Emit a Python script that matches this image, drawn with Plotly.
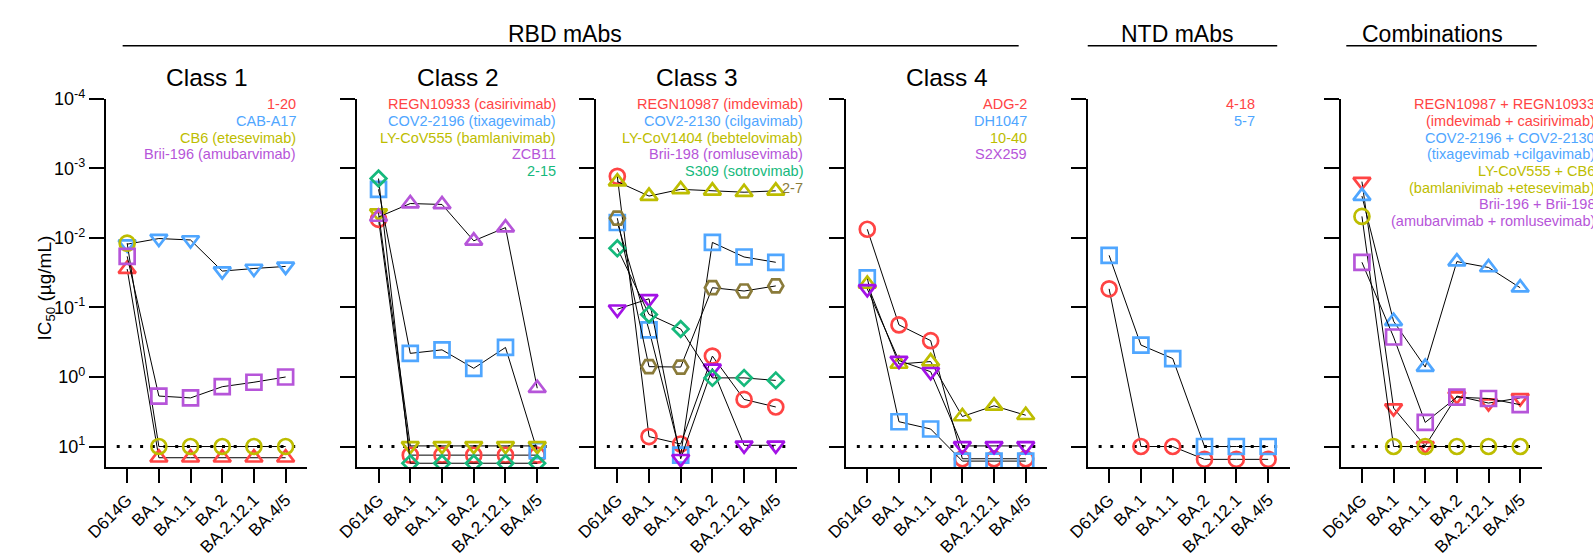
import plotly.graph_objects as go

W, H = 1593, 557

variants = ["D614G", "BA.1", "BA.1.1", "BA.2", "BA.2.12.1", "BA.4/5"]
ytick_vals = [1e-4, 1e-3, 1e-2, 1e-1, 1e0, 1e1]
ytick_text = ["10<sup>-4</sup>", "10<sup>-3</sup>", "10<sup>-2</sup>",
              "10<sup>-1</sup>", "10<sup>0</sup>", "10<sup>1</sup>"]
detection_limit = 10

RED = "#FF4444"
BLUE = "#4FA6FF"
OLIVE = "#BDBD00"
PURPLE = "#B655D9"
VIOLET = "#A312E6"
GREEN = "#16B97C"
BROWN = "#8A7B3A"

# ---- Class 1 ----
c1_1_20 = [0.028, 14.5, 14.5, 14.5, 14.5, 14.5]
c1_cab_a17 = [0.0123, 0.0102, 0.0107, 0.030, 0.0275, 0.0257]
c1_cb6 = [0.0119, 10, 10, 10, 10, 10]
c1_brii196 = [0.0184, 1.88, 2.0, 1.38, 1.19, 1.0]

# ---- Class 2 ----
c2_regn10933 = [0.0054, 13.3, 13.3, 13.3, 13.3, 13.3]
c2_cov2_2196 = [0.0020, 0.457, 0.407, 0.75, 0.376, 11.5]
c2_ly_cov555 = [0.0044, 9.8, 9.8, 9.8, 9.8, 9.8]
c2_zcb11 = [0.0050, 0.0032, 0.0033, 0.011, 0.0071, 1.45]
c2_2_15 = [0.0014, 17.4, 17.4, 17.4, 17.4, 17.4]

# ---- Class 3 ----
c3_regn10987 = [0.0013, 7.2, 9.2, 0.50, 2.1, 2.7]
c3_cov2_2130 = [0.0060, 0.21, 13.3, 0.0116, 0.0188, 0.0224]
c3_ly_cov1404 = [0.00155, 0.0025, 0.0020, 0.0021, 0.0022, 0.0021]
c3_brii198 = [0.106, 0.075, 15.0, 0.75, 9.6, 9.6]
c3_s309 = [0.0141, 0.126, 0.204, 1.03, 1.03, 1.12]
c3_2_7 = [0.0052, 0.71, 0.72, 0.052, 0.058, 0.049]

# ---- Class 4 ----
c4_adg2 = [0.0075, 0.178, 0.30, 15.0, 15.0, 15.0]
c4_dh1047 = [0.0376, 4.4, 5.6, 16.2, 16.2, 16.2]
c4_10_40 = [0.046, 0.65, 0.60, 3.7, 2.6, 3.55]
c4_s2x259 = [0.054, 0.58, 0.84, 9.8, 9.8, 9.8]

# ---- NTD ----
ntd_4_18 = [0.054, 10, 10, 15.3, 15.3, 15.3]
ntd_5_7 = [0.0178, 0.347, 0.543, 10, 10, 10]

# ---- Combinations ----
cb_regn = [0.00155, 2.8, 9.8, 1.88, 2.37, 2.0]
cb_cov2 = [0.0025, 0.158, 0.72, 0.0219, 0.0266, 0.052]
cb_ly = [0.0049, 10, 10, 10, 10, 10]
cb_brii = [0.0224, 0.266, 4.5, 1.95, 2.04, 2.5]

panels = [
    (86, 290, "Class 1", 281, [
        (["1-20"], c1_1_20, "triangle-up-open", RED, RED),
        (["CAB-A17"], c1_cab_a17, "triangle-down-open", BLUE, BLUE),
        (["CB6 (etesevimab)"], c1_cb6, "circle-open", OLIVE, OLIVE),
        (["Brii-196 (amubarvimab)"], c1_brii196, "square-open", PURPLE, PURPLE),
    ]),
    (340.7, 545, "Class 2", 544, [
        (["REGN10933 (casirivimab)"], c2_regn10933, "circle-open", RED, RED),
        (["COV2-2196 (tixagevimab)"], c2_cov2_2196, "square-open", BLUE, BLUE),
        (["LY-CoV555 (bamlanivimab)"], c2_ly_cov555, "triangle-down-open", OLIVE, OLIVE),
        (["ZCB11"], c2_zcb11, "triangle-up-open", PURPLE, PURPLE),
        (["2-15"], c2_2_15, "diamond-open", GREEN, GREEN),
    ]),
    (582.7, 786.7, "Class 3", 794, [
        (["REGN10987 (imdevimab)"], c3_regn10987, "circle-open", RED, RED),
        (["COV2-2130 (cilgavimab)"], c3_cov2_2130, "square-open", BLUE, BLUE),
        (["LY-CoV1404 (bebtelovimab)"], c3_ly_cov1404, "triangle-up-open", OLIVE, OLIVE),
        (["Brii-198 (romlusevimab)"], c3_brii198, "triangle-down-open", VIOLET, PURPLE),
        (["S309 (sotrovimab)"], c3_s309, "diamond-open", GREEN, GREEN),
        (["2-7"], c3_2_7, "hexagon2-open", BROWN, BROWN),
    ]),
    (836, 1040, "Class 4", 1021.7, [
        (["ADG-2"], c4_adg2, "circle-open", RED, RED),
        (["DH1047"], c4_dh1047, "square-open", BLUE, BLUE),
        (["10-40"], c4_10_40, "triangle-up-open", OLIVE, OLIVE),
        (["S2X259"], c4_s2x259, "triangle-down-open", VIOLET, PURPLE),
    ]),
    (1081, 1285.7, None, 1252.3, [
        (["4-18"], ntd_4_18, "circle-open", RED, RED),
        (["5-7"], ntd_5_7, "square-open", BLUE, BLUE),
    ]),
    (1337.3, 1541, None, 1597, [
        (["REGN10987 + REGN10933", "(imdevimab + casirivimab)"], cb_regn, "triangle-down-open", RED, RED),
        (["COV2-2196 + COV2-2130", "(tixagevimab +cilgavimab)"], cb_cov2, "triangle-up-open", BLUE, BLUE),
        (["LY-CoV555 + CB6", "(bamlanivimab +etesevimab)"], cb_ly, "circle-open", OLIVE, OLIVE),
        (["Brii-196 + Brii-198", "(amubarvimab + romlusevimab)"], cb_brii, "square-open", PURPLE, PURPLE),
    ]),
]

SIZES = {"circle-open": 15, "square-open": 15, "triangle-up-open": 15,
         "triangle-down-open": 15, "diamond-open": 12, "hexagon2-open": 15}

FONT = "Liberation Sans, Arial, sans-serif"
Y_TOP, Y_BOT = 88.8, 465.4
xs = list(range(len(variants)))

def fx(px):
    return px / W

def fy(py):
    return 1 - py / H

fig = go.Figure()
annotations = []
shapes = []
layout = {}

for i, (x0, x1, title, leg_right, series) in enumerate(panels, start=1):
    xa = "x" if i == 1 else f"x{i}"
    ya = "y" if i == 1 else f"y{i}"
    fig.add_trace(go.Scatter(
        x=[-0.33, 5.38], y=[detection_limit, detection_limit], mode="lines",
        line=dict(color="black", width=3.2, dash="3px,8.7px"),
        hoverinfo="skip", showlegend=False, xaxis=xa, yaxis=ya))
    for names, vals, sym, mcol, tcol in series:
        fig.add_trace(go.Scatter(
            x=xs, y=vals, mode="lines+markers", name=names[0],
            line=dict(color="black", width=1),
            marker=dict(symbol=sym, size=SIZES[sym], color=mcol,
                        line=dict(color=mcol, width=2.7)),
            showlegend=False, xaxis=xa, yaxis=ya))
    line_idx = 0
    for names, vals, sym, mcol, tcol in series:
        for nm in names:
            annotations.append(dict(
                x=fx(leg_right), y=fy(94.5 + 17 * line_idx), xref="paper", yref="paper",
                text=nm, showarrow=False, xanchor="right", yanchor="middle",
                font=dict(family=FONT, size=14.5, color=tcol)))
            line_idx += 1
    if title:
        annotations.append(dict(
            x=fx((x0 + x1) / 2), y=fy(67), xref="paper", yref="paper", text=title,
            showarrow=False, xanchor="center", yanchor="middle",
            font=dict(family=FONT, size=24.5, color="black")))

    xkey = "xaxis" if i == 1 else f"xaxis{i}"
    ykey = "yaxis" if i == 1 else f"yaxis{i}"
    layout[xkey] = dict(
        domain=[fx(x0), fx(x1)], anchor=ya, range=[-0.672, 5.68],
        tickvals=xs, ticktext=variants, tickangle=-45,
        tickfont=dict(family=FONT, size=17, color="black"),
        showline=True, linecolor="black", linewidth=2,
        ticks="outside", ticklen=14, tickwidth=2, tickcolor="black",
        showgrid=False, zeroline=False, fixedrange=True)
    layout[ykey] = dict(
        domain=[fy(Y_BOT), fy(Y_TOP)], anchor=xa, type="log", range=[1.3, -4],
        tickvals=ytick_vals, ticktext=ytick_text, showticklabels=(i == 1),
        tickfont=dict(family=FONT, size=18, color="black"),
        showline=True, linecolor="black", linewidth=2,
        ticks="outside", ticklen=15, tickwidth=2, tickcolor="black",
        showgrid=False, zeroline=False, fixedrange=True)

for text, cx, lx0, lx1 in [("RBD mAbs", 551, 103, 1011),
                           ("NTD mAbs", 1171, 1081, 1273),
                           ("Combinations", 1430, 1343, 1536)]:
    annotations.append(dict(
        x=fx(cx), y=fy(22), xref="paper", yref="paper", text=text, showarrow=False,
        xanchor="center", yanchor="middle",
        font=dict(family=FONT, size=23, color="black")))
    shapes.append(dict(type="line", xref="paper", yref="paper",
                       x0=fx(lx0), x1=fx(lx1), y0=fy(34.5), y1=fy(34.5),
                       line=dict(color="black", width=1.5)))

annotations.append(dict(
    x=fx(25), y=fy(282), xref="paper", yref="paper",
    text="IC<sub>50</sub> (µg/mL)", showarrow=False, textangle=-90,
    xanchor="center", yanchor="middle",
    font=dict(family=FONT, size=19, color="black")))

fig.update_layout(
    width=W, height=H, margin=dict(l=0, r=0, t=0, b=0),
    paper_bgcolor="white", plot_bgcolor="white",
    showlegend=False, annotations=annotations, shapes=shapes, **layout)

fig.write_html("out.html", config={"displayModeBar": False},
               post_script="document.body.style.margin='0px';")
